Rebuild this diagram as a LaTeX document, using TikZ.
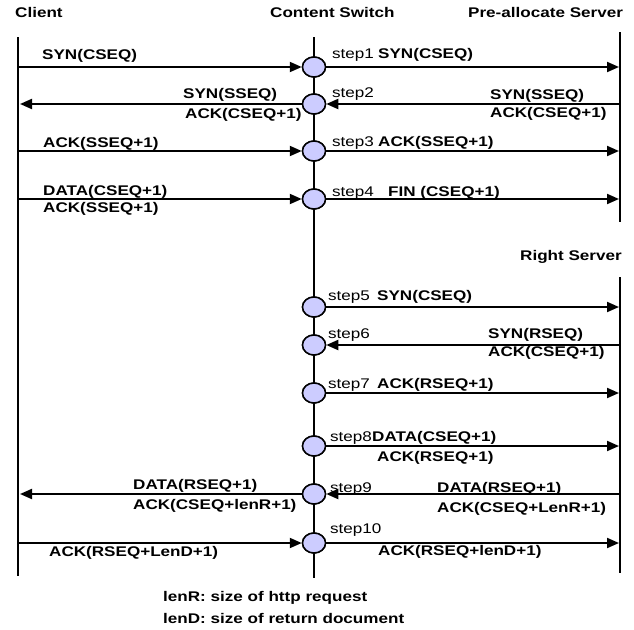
\documentclass[tikz,border=0pt]{standalone}
\usepackage{fontspec}
\setmainfont{Liberation Sans}[FakeStretch=1.22]
\usetikzlibrary{arrows.meta,shapes.geometric}
\definecolor{stepfill}{RGB}{204,204,255}
\begin{document}
\begin{tikzpicture}[x=1pt,y=-1pt,
  lbl/.style={inner sep=0pt, anchor=base west, font=\fontsize{14}{16}\selectfont\bfseries},
  steplbl/.style={inner sep=0pt, anchor=base west, font=\fontsize{14}{16}\selectfont},
  life/.style={line width=2pt},
  msg/.style={line width=2pt, -{Triangle[length=12pt,width=10pt]}},
  hub/.style={ellipse, draw, line width=1.5pt, fill=stepfill, inner sep=0pt,
              minimum width=23pt, minimum height=20pt}]
\useasboundingbox (0,0) rectangle (634,629);

% lifelines
\coordinate (cTop) at (18,37);   \coordinate (cBot) at (18,576);
\coordinate (sTop) at (314,37);  \coordinate (sBot) at (314,578);
\coordinate (pTop) at (620,32);  \coordinate (pBot) at (620,222);
\coordinate (rTop) at (620,277); \coordinate (rBot) at (620,573);
\draw[life] (cTop) -- (cBot);
\draw[line width=1.5pt] (sTop) -- (sBot);
\draw[life] (pTop) -- (pBot);
\draw[life] (rTop) -- (rBot);

% titles
\node[lbl] (tClient) at (15,17) {Client};
\node[lbl] (tSwitch) at (270,17) {Content Switch};
\node[lbl] (tPre) at (468,17) {Pre-allocate Server};
\node[lbl] (tRight) at (520,260) {Right Server};

% switch step points
\foreach \i/\y in {1/67,2/104,3/151,4/199,5/307,6/345,7/393,8/446,9/494,10/543}{
  \node[hub] (s\i) at (314,\y) {};
  \coordinate (cl\i) at (18,\y);
  \coordinate (cl\i t) at (20,\y);
  \coordinate (sv\i) at (619,\y);
}

% messages
\draw[msg] (cl1) -- (s1.west);
\draw[msg] (s1.east) -- (sv1);
\draw[msg] (sv2) -- (s2.east);
\draw[msg] (s2.west) -- (cl2t);
\draw[msg] (cl3) -- (s3.west);
\draw[msg] (s3.east) -- (sv3);
\draw[msg] (cl4) -- (s4.west);
\draw[msg] (s4.east) -- (sv4);
\draw[msg] (s5.east) -- (sv5);
\draw[msg] (sv6) -- (s6.east);
\draw[msg] (s7.east) -- (sv7);
\draw[msg] (s8.east) -- (sv8);
\draw[msg] (sv9) -- (s9.east);
\draw[msg] (s9.west) -- (cl9t);
\draw[msg] (cl10) -- (s10.west);
\draw[msg] (s10.east) -- (sv10);

% redraw step points above the messages
\foreach \i/\y in {1/67,2/104,3/151,4/199,5/307,6/345,7/393,8/446,9/494,10/543}{
  \node[hub] at (314,\y) {};
}

% step labels
\node[steplbl] (n1) at (332,58) {step1};
\node[steplbl] (n2) at (332,97) {step2};
\node[steplbl] (n3) at (332,146) {step3};
\node[steplbl] (n4) at (332,196) {step4};
\node[steplbl] (n5) at (328,300) {step5};
\node[steplbl] (n6) at (328,338) {step6};
\node[steplbl] (n7) at (328,388) {step7};
\node[steplbl] (n8) at (330,441) {step8};
\node[steplbl] (n9) at (330,492) {step9};
\node[steplbl] (n10) at (330,533) {step10};

% client side messages
\node[lbl] (m1l) at (42,59) {SYN(CSEQ)};
\node[lbl] (m2la) at (183,98) {SYN(SSEQ)};
\node[lbl] (m2lb) at (185,118) {ACK(CSEQ+1)};
\node[lbl] (m3l) at (43,147) {ACK(SSEQ+1)};
\node[lbl] (m4la) at (43,195) {DATA(CSEQ+1)};
\node[lbl] (m4lb) at (43,212) {ACK(SSEQ+1)};
\node[lbl] (m9la) at (133,489) {DATA(RSEQ+1)};
\node[lbl] (m9lb) at (133,509) {ACK(CSEQ+lenR+1)};
\node[lbl] (m10l) at (49,556) {ACK(RSEQ+LenD+1)};

% server side messages
\node[lbl] (m1r) at (378,58) {SYN(CSEQ)};
\node[lbl] (m2ra) at (490,99) {SYN(SSEQ)};
\node[lbl] (m2rb) at (490,117) {ACK(CSEQ+1)};
\node[lbl] (m3r) at (378,146) {ACK(SSEQ+1)};
\node[lbl] (m4r) at (388,196) {FIN (CSEQ+1)};
\node[lbl] (m5r) at (377,300) {SYN(CSEQ)};
\node[lbl] (m6ra) at (488,338) {SYN(RSEQ)};
\node[lbl] (m6rb) at (488,356) {ACK(CSEQ+1)};
\node[lbl] (m7r) at (377,388) {ACK(RSEQ+1)};
\node[lbl] (m8ra) at (372,441) {DATA(CSEQ+1)};
\node[lbl] (m8rb) at (377,461) {ACK(RSEQ+1)};
\node[lbl] (m9ra) at (437,492) {DATA(RSEQ+1)};
\node[lbl] (m9rb) at (437,512) {ACK(CSEQ+LenR+1)};
\node[lbl] (m10r) at (378,555) {ACK(RSEQ+lenD+1)};

% notes
\node[lbl] (noteR) at (163,601) {lenR: size of http request};
\node[lbl] (noteD) at (163,623) {lenD: size of return document};
\end{tikzpicture}
\end{document}
